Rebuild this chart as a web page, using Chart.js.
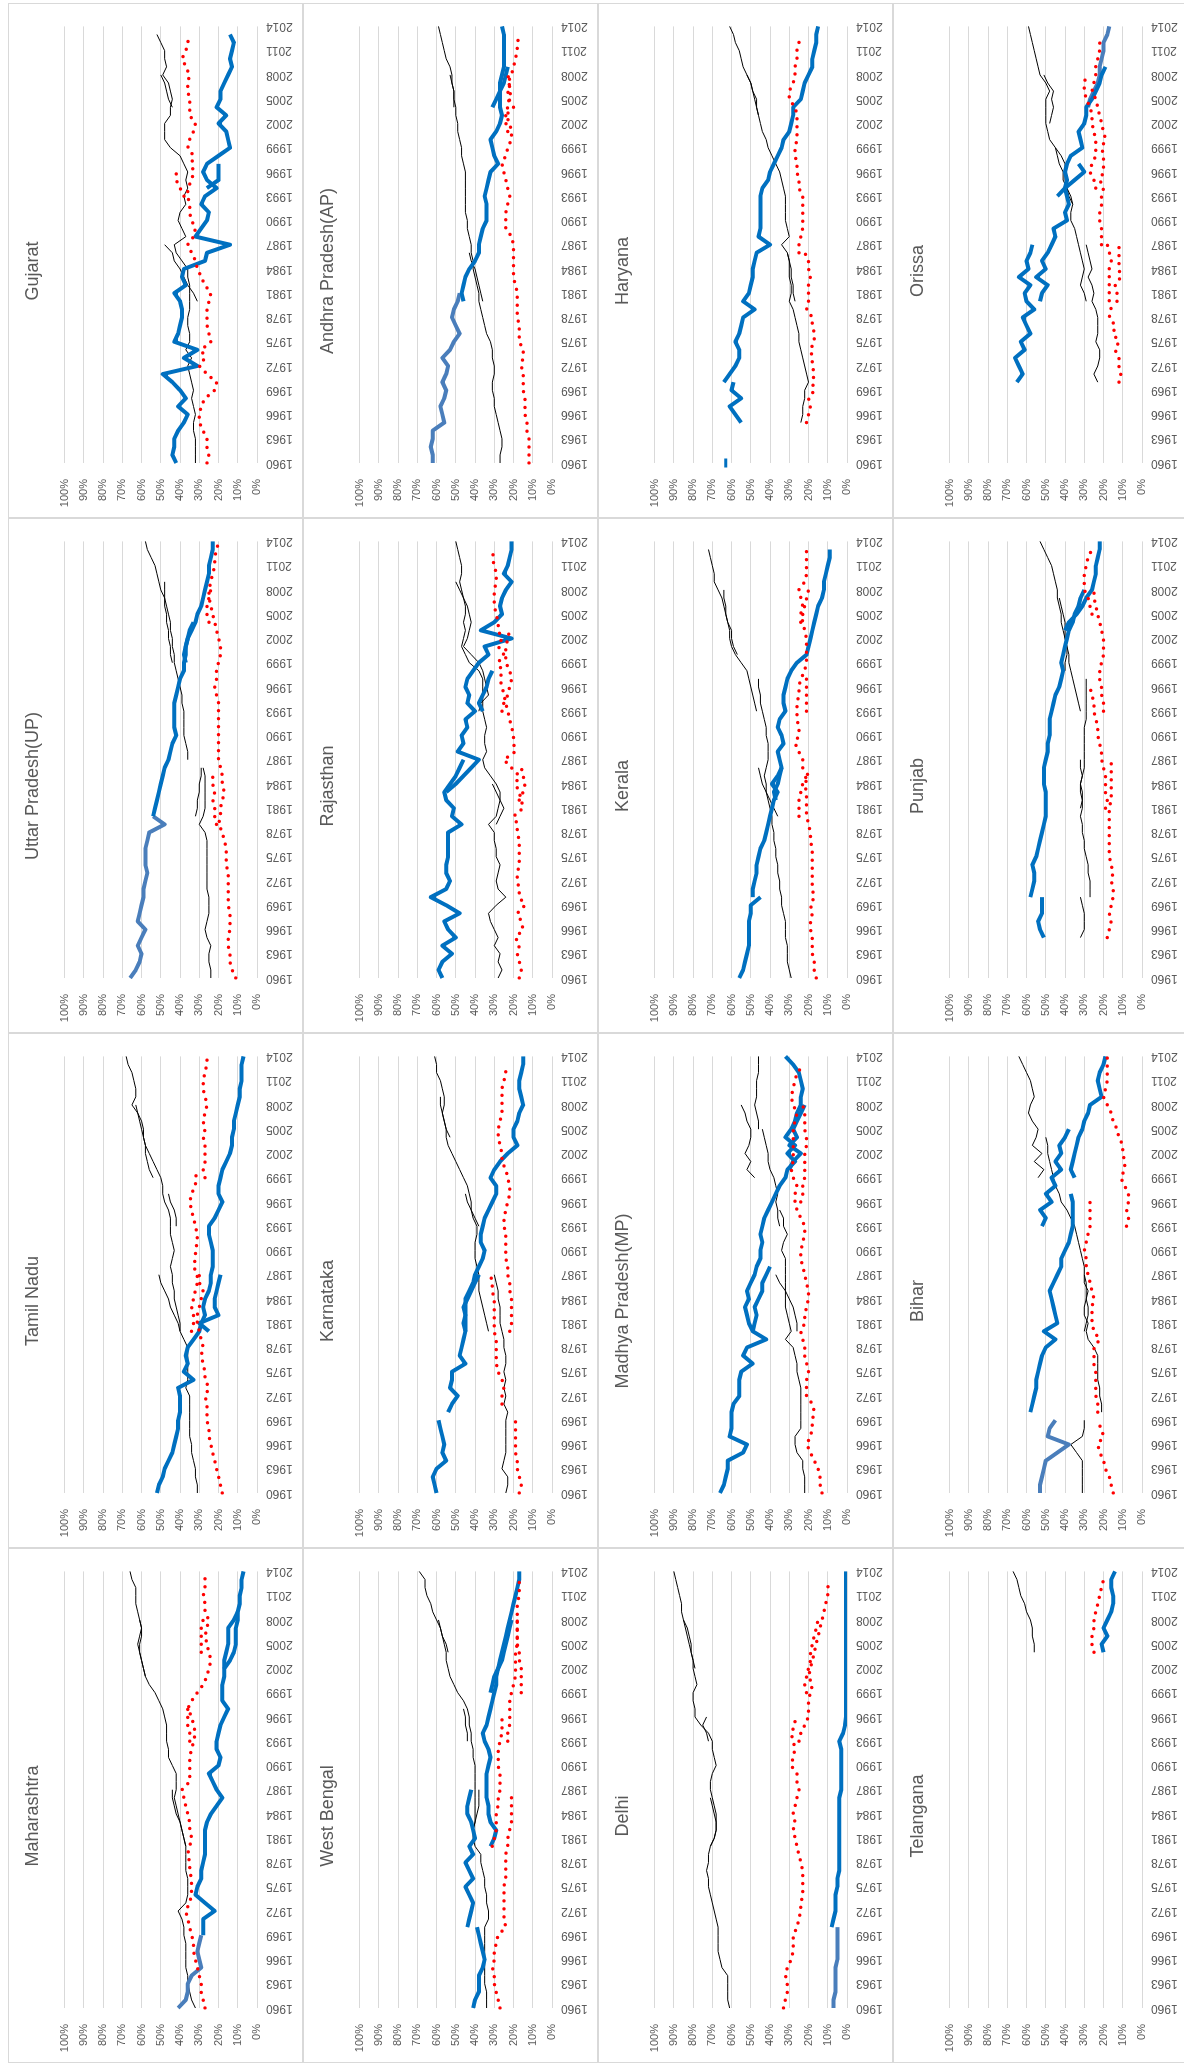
<!DOCTYPE html>
<html>
<head>
<meta charset="utf-8">
<title>State vote shares 1960-2014</title>
<script src="https://cdn.jsdelivr.net/npm/chart.js@4.4.1/dist/chart.umd.min.js"></script>
<style>
  html, body { margin: 0; padding: 0; background: #fff; overflow: hidden; }
  body { width: 1184px; height: 2067px; position: relative; }
  /* the sheet is laid out landscape and turned a quarter counter-clockwise */
  #sheet { position: absolute; left: 0; top: 0; width: 2067px; height: 1184px;
           transform-origin: 0 0; transform: translateY(2067px) rotate(-90deg); }
  .panel { position: absolute; width: 515px; height: 295px; box-sizing: border-box; border: 1px solid #d9d9d9; }
  .panel canvas { position: absolute; left: -1px; top: -1px; }
</style>
</head>
<body>
<div id="sheet"></div>
<script>
// --- categories ---
const years = ['1960','1961','1962','1963','1964','1965','1966','1967','1968','1969',
  '1970','1971','1972','1973','1974','1975','1976','1977','1978','1979',
  '1980','1981','1982','1983','1984','1985','1986','1987','1988','1989',
  '1990','1991','1992','1993','1994','1995','1996','1997','1998','1999',
  '2000','2001','2002','2003','2004','2005','2006','2007','2008','2009',
  '2010','2011','2012','2013','2014'];
const pctTicks = [0, 10, 20, 30, 40, 50, 60, 70, 80, 90, 100];

// put a run of yearly values into the 1960-2014 slots, starting at a given year
function seg(start, vals) {
  const out = years.map(() => null);
  vals.forEach((v, i) => { out[start - 1960 + i] = v; });
  return out;
}

// --- Gujarat ---
const gujBlue   = seg(1960, [42,44,43,43,41,38,36,41,37,40, 44,49,31,38,31,43,41,40,39,39, 40,43,37,39,38,27,26,14,32,29, 26,25,29,27,21,26,28,26,20,14, 15,16,20,16,21,19,19,17,15,13, 14,13,12,14]);
const gujBlue2  = seg(1994, [26,20,20,20]);
const gujBlack  = seg(1960, [32,32,32,32,33,33,32,33,34,33, 34,35,36,34,37,35,35,36,36,35, 35,35,35,36,36,39,42,43,37,39, 41,40,37,38,36,37,36,38,40,45, 48,48,48,45,45,44,45,46,49,47, 48,48,50,52]);
const gujBlack2 = seg(1980, [31,33,36,38,40,43,44,48]);
const gujBlack3 = seg(2004, [44,46,47,48,50]);
const gujRed    = seg(1960, [26,25,26,26,28,30,30,29,27,22, 21,26,30,27,29,24,25,26,26,26, 25,24,27,29,31,32,34,36,33,32, 34,35,35,36,36,34,33,34,33,36, 35,33,32,35,35,35,36,36,35,37, 39,37,36,35]);
const gujRed2   = seg(1993, [38,40,42,42]);

// --- Andhra Pradesh ---
const apBlueL  = seg(1960, [62,62,63,62,62,56,57,58,56,55, 57,55,54,57,53,51,48,50,52,51, 49,48]);
const apBlue   = seg(1980, [46,47,46,45,43,40,38,38,37,36, 34,34,34,35,34,33,32,28,30,31, 32,29,27,26,27,27,27,27,26,25, 25,25,25,25,26]);
const apBlue2  = seg(2004, [31,29,27,25,24,23]);
const apBlack  = seg(1960, [27,27,26,26,27,28,29,30,30,31, 31,30,30,31,31,32,34,35,36,37, 38,38,39,40,41,41,42,42,43,44, 44,45,45,45,45,45,45,46,47,47, 48,49,49,50,50,51,51,52,52,53, 55,56,57,58,59]);
const apBlack2 = seg(1980, [36,37,38,39,40,42,43]);
const apBlack3 = seg(2004, [51,51,51,52,53]);
const apRed    = seg(1960, [12,12,12,12,13,13,14,14,14,15, 15,15,16,15,15,17,17,17,18,18, 18,18,19,20,20,20,20,20,21,24, 24,24,23,22,23,24,25,26,24,23, 21,21,22,24,20,23,21,23,21,20, 19,18,18,17]);
const apRed2   = seg(2001, [23,24,24,23,22,23,22,23]);

// --- Haryana ---
const harBluePt  = seg(1960, [63]);
const harBlueA   = seg(1965, [55,58,61,55,60,59]);
const harBlueB   = seg(1970, [64,61,58,56,56,58,56,55,54,48, 54,51,50,49,49,48,47,40,46,45, 45,45,45,45,44,41,40,38,36,34, 33,30,29,28,28,24,23,22,20,18, 18,17,16,16,15]);
const harBlack   = seg(1965, [24,23,23,22,22, 20,21,22,23,24,25,25,26,27,28, 30,29,29,30,30,30,31,34,30,31, 32,32,32,32,33,34,35,37,39,41, 42,44,45,46,47,47,49,50,52,54, 55,56,58,59,61]);
const harBlack2  = seg(1980, [27,28,28,29,29,30,31]);
const harBlack3  = seg(2003, [46,47,48,49,50,52]);
const harRed     = seg(1965, [21,20,19,20,17, 18,17,18,18,19,17,17,18,18,21, 20,20,20,19,20,20,22]);
const harRed2    = seg(1986, [25,25,24,23,23,23,23,23,25,25, 26,26,27,27,26,26,26,26,27,30, 30,28,27,27,26,26,25,25]);

// --- Orissa ---
const oriBlueA  = seg(1970, [65,62,64,66,61,63,58,60,62,56, 60,61,58,64,59,60,58,57]);
const oriBlueB  = seg(1980, [53,52,49,55,50,52,49,47,45,46, 39,40,38,39,40,39,40,39,37,31, 32,33,30,29,29,26,24,22,21,19]);
const oriBlueC  = seg(1993, [44,40,35,30,33]);
const oriBlueL  = seg(2004, [28,27,25,23,22,22,21,20,20,18,17]);
const oriBlack  = seg(1970, [23,25,23,22,22,24,23,23,23,24, 26,25,26,28,26,27,28,29]);
const oriBlack2 = seg(1980, [29,30,32,31,30,31,32,33,34,35, 37,37,36,38,39,40,40,40,42,45, 48,49,50,50,50,50,48,50,53,54, 55,56,57,58,59]);
const oriBlack3 = seg(1992, [36,37,39,41,41,43,44,45]);
const oriBlack4 = seg(2002, [48,47,46,47,46,49,51]);
const oriRed    = seg(1970, [12,11,12,12,14,12,15,14,17,16, 17,17,17,17,17,16,17,18]);
const oriRed2   = seg(1980, [13,13,14,11,12,12,12,12]);
const oriRed3   = seg(1987, [21,21,21,22,22,21,21,20,22,20, 20,20,21,19,20,21,22,23,24,26, 25,24,24,23,22,22]);
const oriRed4   = seg(1994, [24,25,27,26,24,24,24,25,26,26,27,29,30,30,29]);

// --- Uttar Pradesh ---
const upBlueL  = seg(1960, [66,63,61,60,62,60,58,62,61,60, 59,59,58,57,58,58,58,57,56,48, 54]);
const upBlue   = seg(1980, [54,53,52,51,50,49,48,46,45,44, 42,43,43,43,43,42,41,40,38,38, 37,37,36,34,32,31,29,28,27,26, 25,25,24,23,23]);
const upBlue2  = seg(1999, [37,38,37,36,35,33]);
const upBlack  = seg(1960, [24,24,25,25,24,26,27,26,25,25, 25,26,26,26,26,26,26,26,27,30, 28,27,27,27,27,27,28]);
const upBlack2 = seg(1980, [32,31,31,30,30,29,29]);
const upBlack3 = seg(1987, [36,36,37,38,38,38,38,39,39,40, 41,42,43,43,44,44,45,45,46,47, 48,50,51,52,53,55,57,58]);
const upBlack4 = seg(1999, [44,45,45,46,46,47,47,48,48,48,48]);
const upRed    = seg(1960, [11,13,14,14,15,15,14,14,14,15, 15,15,15,15,16,16,16,17,18,20, 19,19,18,17,18,18,19,20,20,20, 20,20,20,20,20,21,22,21,21,20, 19,19,20,21,22,23,24,25,25,24, 23,22,22,21,20]);
const upRed2   = seg(1979, [21,22,22,23,22,23,23]);
const upRed3   = seg(2004, [25,26,26,25,24]);

// --- Rajasthan ---
const rajBlueA  = seg(1960, [57,59,57,52,57,50,54,56,48,55, 63,55,53,55,55,54,54,54,54,47, 52,51,55,56,53,50,48,46]);
const rajBlueB  = seg(1983, [55,50,46,42,38,49,46,47,44,45, 40,44,43,45,44,41,38,33,35,21, 37,30,26,27,26,24,21,25,23,22, 21,21]);
const rajBlueC  = seg(1993, [36,38,36,34,33,31]);
const rajBlack  = seg(1960, [28,26,28,27,30,28,30,32,33,29, 24,28,29,28,27,29,29,30,30,33, 29,28,27,27,29,32,35,36,34,35, 35,34,35,36,36,36,36,36,38,43, 45,47,46,45,46,45,45,46,47,48, 47,47,48,49,50]);
const rajBlack2 = seg(1979, [29,27,25,27,29,31]);
const rajBlack3 = seg(1993, [38,37,33,34,35,36,38,42,46,44,43,42,43,44,46,48,50]);
const rajRed    = seg(1960, [17,16,17,18,17,19,15,16,18,14, 17,17,18,18,17,17,17,17,18,18, 20,15,16,17,19,17,21,25,19,20, 20,21,22,23,24,25,26,27,26,28, 25,28,26,28,28,29,30,30,30,29, 29,30,31,30]);
const rajRed2   = seg(1982, [17,15,14,15,16]);
const rajRed3   = seg(1993, [26,25,23,22,21,22,24,24,24,23,22]);

// --- Kerala ---
const kerBlueA  = seg(1960, [56,54,53,52,51,51,51,51,50,50,45]);
const kerBlueB  = seg(1970, [49,49,48,47,47,46,45,43,42,41, 40,39,38,36,39,36,34,35,36,33, 34,36,35,32,33,33,32,31,29,26, 21,20,19,18,17,16,15,13,12,12, 11,10,9,9]);
const kerBlueC  = seg(1982, [37,38,36,35,34]);
const kerBlack  = seg(1960, [29,30,31,31,31,32,32,32,33,34, 34,35,35,36,36,37,37,38,38,39, 39,40,41,42,42,43,42,41,41,41, 42,42,43,44,45,45,46,46]);
const kerBlack2 = seg(1993, [47,48,49,50,51,52,55,58,60,61,61,62,63,64,65,67,69,69,70,71,72]);
const kerBlack3 = seg(1980, [36,38,40,42,44,45,46]);
const kerBlack4 = seg(2000, [57,59,60,60,62,63,63,64,64]);
const kerRed    = seg(1960, [16,17,17,18,18,18,19,19,18,19, 17,18,18,18,18,18,18,19,19,20, 21,21,21,21,22,20,23,23,25,27, 25,25,26,26,26,25,25,24,22,21, 21,21,21,22,23,24,23,24,25,22, 21,21,21,21]);
const kerRed2   = seg(1980, [25,25,25,24,23,21]);
const kerRed3   = seg(1993, [21,21,21,21,21]);
const kerRed4   = seg(2004, [24,23,22,21,20]);

// --- Punjab ---
const punBlueA  = seg(1965, [51,53,54,52,52,52]);
const punBlueB  = seg(1970, [58,57,56,56,57,55,54,53,52,51, 50,50,50,50,51,51,51,50,49,49, 48,48,48,47,46,45,43,42,41,42, 41,40,39,38,36,35,33,32,30]);
const punBlueC  = seg(2003, [40,38,34,31,29,26,25,24,24,23,22,22]);
const punBlackA = seg(1965, [32,30,30,30,31,32]);
const punBlackB = seg(1970, [27,27,27,28,28,29,30,30,31,31, 32,31,31,31,32,31,30,30,30,30, 30,30,29,29,29,29,29,29]);
const punBlackC = seg(1981, [32,31,32,32,31,32,32]);
const punBlackD = seg(1993, [32,33,34,35,36,37,38,38,39,40, 41,42,42,43,44,44,45,46,47,49, 51,53]);
const punBlackE = seg(1998, [40,40,39,39,40,40,40,41,42,43]);
const punRedA   = seg(1965, [18,17,16,17,16,15,15,16,15,16, 17,17,17,17,17,17,17,16,16,16, 16,16,16]);
const punRedB   = seg(1981, [19,18,19,19,19,20,21,21,22,23,23,24,25,25,26,27]);
const punRedC   = seg(1993, [20,20,21,21,22,22,21,20,20,20,21,22,23,24,25,25]);
const punRedD   = seg(2005, [26,27,28,30,30,30,29,28,26]);

// --- Tamil Nadu ---
const tnBlue   = seg(1960, [52,51,49,48,46,44,43,42,41,41, 40,40,40,41,33,38,36,37,36,33, 30,29,27,28,27,25,24,24,23,23, 23,24,25,25,22,20,18,20,20,19, 18,16,14,13,13,12,12,11,10,9, 9,8,8,8,7]);
const tnBlue2  = seg(1980, [25,30,20,22,22,21,20,19]);
const tnBlack  = seg(1960, [31,31,32,32,33,34,34,35,35,35, 35,35,35,37,36,36,36,36,36,38, 40,40,41,42,43,43,44,44,45,44, 43,44,45,45,45,46,48,49,49,50, 52,54,56,58,59,59,60,62,65,63, 63,64,65,67,68]);
const tnBlack2 = seg(1980, [40,41,43,45,46,48,50,51]);
const tnBlack3 = seg(1993, [42,42,43,45,46]);
const tnBlack4 = seg(1999, [54,56,57,58,58,59,60,61,62,63]);
const tnRedA   = seg(1960, [18,19,20,21,22,23,24,25,25,26, 26,26,27,25,27,27,28,29,28,29, 30,31,31,30,29,28,30,30]);
const tnRedB   = seg(1980, [34,33,33,34,33,32,31,31,33,32, 32,31,31,32,33,34,35,34,32,32,31]);
const tnRedC   = seg(1999, [27,28,27,27,27,28,27,28,27,26,27,28,28,27,26,26]);

// --- Karnataka ---
const karBlueA  = seg(1960, [60,61,62,60,55,57,56,57,58,59]);
const karBlueB  = seg(1970, [54,52,49,53,52,52,45,48,47,46, 45,46,45,45,45,43,41,40,38,36, 35,37,37,36,35,33,31,29,29,32, 30,27,23,18,20,20,18,17,15,16, 17,17,16,15,15]);
const karBlueC  = seg(1980, [45,45,45,46,44,42,40,38]);
const karBlack  = seg(1960, [24,23,23,26,25,24,24,24,24,24, 23,25,24,25,24,25,24,24,25,25, 26,27,27,27,28,28,29,30]);
const karBlack2 = seg(1980, [33,34,35,36,37,38,38,38,39,40, 40,40,39,39,41,42,42,43,44,46, 48,50,52,54,55,55,56,57,56,56, 57,58,60,60,61]);
const karBlack3 = seg(1993, [38,40,42,44,45]);
const karBlack4 = seg(2004, [53,55,56,57,58,58]);
const karRedA   = seg(1960, [17,16,17,18,18,19,19,19,19,19]);
const karRedB   = seg(1971, [26,26,25,26,28,29,29,29,29,30,30,30,30,30,31,31,32]);
const karRedC   = seg(1980, [22,21,21,21,21,22,22,23,23,24, 24,24,24,25,25,24,23,22,22,23, 24,26,26,27,28,28,27,26,26,26, 26,25,24,24]);

// --- Madhya Pradesh ---
const mpBlueA  = seg(1960, [66,64,63,62,62,54,52,61,60,60, 60,59,56,56,56,55,49,54,52,42, 49,51,52,53,51,52,50,48,47,45, 45,44,45,44,43,41,39,37,35,32, 31,27,31,27,32,29,27,26,24,24, 23,24,25,28,32]);
const mpBlueB  = seg(1980, [49,48,47,48,46,44,44,42,40]);
const mpBlueC  = seg(2000, [30,28,24,30,26,28,26,24,22]);
const mpBlack  = seg(1960, [22,22,22,23,23,26,27,27,24,24, 24,24,24,24,25,26,26,27,28,32, 29,30,31,32,32,32,32,32,32,32, 34,33,31,33,33,35]);
const mpBlack2 = seg(1980, [26,26,27,28,30,32,35,37]);
const mpBlack3 = seg(1993, [35,36,36,37,36,37,38,40,41,41,42,43,44]);
const mpBlack4 = seg(1999, [48,52,50,53,51,50,50,52,53,55]);
const mpBlack5 = seg(2005, [46,46,47,48,47,47,47,46,46,46]);
const mpRedA   = seg(1960, [13,14,14,15,17,19,21,19,18,18, 17,18,21,21,21,20,21,22,22,23, 24,22,22,21,20,20,21,22,23,24, 24,23,22,22,24,26,27,27,26,28, 29,28,28,28,28,28,27,26,28,29, 28,27,26,22]);
const mpRedB   = seg(1996, [24,23,23,22,22,22,22,21,21,22,22,22,23]);

// --- Bihar ---
const bihBlueL  = seg(1960, [53,53,52,51,50,44,38,49,48,45]);
const bihBlueA  = seg(1970, [58,57,56,55,55,54,53,52,50,45, 51,44,45,46,47,48,46,44,42,42, 40,38,37,36,36,36,36,37]);
const bihBlueB  = seg(1993, [52,50,53,47,50,45,47,42,45,42,43,40,38]);
const bihBlueC  = seg(1999, [35,37,36,35,34,33,31,30,28,27,21,22,23,22,20,19]);
const bihBlackL = seg(1960, [31,31,31,31,31,34,37,31,30,30]);
const bihBlackA = seg(1970, [21,21,22,22,23,23,23,23,25,28, 29,28,30,30,29,29,29,30,30,31, 32,33,34,35,37,39,42,43,45,46, 47,48,49,49,50]);
const bihBlackB = seg(1980, [30,29,28,28,29,28,30,30]);
const bihBlackC = seg(1999, [54,51,56,52,57,55,54,57,59,58,56,57,58,60,62,64]);
const bihRedL   = seg(1960, [15,16,17,19,20,22,23,20,21,24]);
const bihRedA   = seg(1970, [23,23,24,24,24,24,25,25,25,22, 25,26,26,26,25,26,27,28,29,29, 30,29,28,27,27,27,27]);
const bihRedB   = seg(1993, [8,7,8,7,7,9,11,9,9,10, 10,12,13,15,16,18,20,19,18,18, 18,18]);

// --- Maharashtra ---
const mahBlueL  = seg(1960, [41,37,36,36,34,29,30,31,30,29]);
const mahBlue   = seg(1969, [28,28,28,22,27,32,31,29,29,28, 27,27,27,27,26,24,21,18,21,23, 25,20,19,21,21,20,19,17,15,18, 18,18,17,17,14,12,11,11,11,10, 10,9,9,8,8,7]);
const mahBlue2  = seg(2002, [17,17,16,15,15,15,12,10]);
const mahBlack  = seg(1960, [32,34,35,36,36,37,37,37,37,38, 38,39,41,37,36,36,36,37,37,37, 37,38,39,40,41,42,43,42,42,42, 44,46,46,47,47,47,48,49,51,53, 56,58,59,60,61,61,60,60,61,62, 63,63,63,65,66]);
const mahBlack2 = seg(1980, [37,38,39,40,42,43,44,44]);
const mahBlack3 = seg(2001, [58,59,60,61,62,61,60,61]);
const mahRed    = seg(1960, [27,28,29,29,30,31,32,33,33,34, 35,36,37,35,34,34,34,35,35,36, 35,34,35,35,36,37,38,39,35,35, 35,35,34,33,32,33,34,36,34,31, 28,26,25,24,25,26,27,26,25,27, 27,28,27,27,27]);
const mahRed2   = seg(1993, [35,35,36,36,36]);
const mahRed3   = seg(2004, [29,29,29,29,28]);

// --- West Bengal ---
const wbBlueA  = seg(1960, [41,40,38,38,38,36,35,36,37,38,39]);
const wbBlueB  = seg(1970, [44,43,42,41,43,45,41,43,45,41, 43,40,41,42,44,44,43,42]);
const wbBlueC  = seg(1980, [32,30,29,32,33,33,34,34,34,34, 33,32,33,35,36,34,33,32,31,30, 29,29,28,27,26,25,24,23,22,21, 20,19,18,17,17]);
const wbBlueD  = seg(1999, [32,31,30,28,26,25,24,23,22,21]);
const wbBlack  = seg(1960, [34,34,34,35,35,35,35,35,35,35, 35,33,33,34,34,35,35,36,37,37, 40,41,41,40,39,38,38,38]);
const wbBlack2 = seg(1982, [41,40,40,40,40,40,40,40,40,41, 41,42,42,43,43,44,46,49,51,53, 54,55,55,56,57,58,60,62,63,65, 66,66,69]);
const wbBlack3 = seg(1993, [44,44,45,45,46]);
const wbBlack4 = seg(2004, [54,55,57,58,59]);
const wbRedA   = seg(1960, [27,28,29,30,30,31,30,30,29,28, 24,25,25,25,25,25,24,24,24,24, 23,23,22,21,21,21,21]);
const wbRedB   = seg(1980, [31,30,29,29,29,28,28,27,27,27, 28,28,28,27,26,26,26]);
const wbRedC   = seg(1993, [23,23,22,22,22,22,21,20,19,19, 19,19,18,18,18,18,18,18,17,17, 17]);
const wbRedD   = seg(1999, [16,16,16,16,17,17,18,18,18,18]);

// --- Delhi ---
const delBlueL  = seg(1960, [7,7,6,6,6,6,5,5,5,5,5]);
const delBlue   = seg(1970, [8,7,6,6,6,5,5,4,4,4, 4,4,4,4,4,4,4,3,3,3, 3,3,3,4,2,1,0.5,0.5,0.5,0.5, 0.5,0.5,0.5,0.5,0.5,0.5,0.5,0.5,0.5,0.5, 0.5,0.5,0.5,0.5,0.5]);
const delBlack  = seg(1960, [61,62,62,62,62,65,66,67,67,67, 67,68,69,70,71,72,72,73,72,72, 71,69,68,68,68,69,70,71,71,70, 68,69,70,70,72,76,79,79,80,80, 78,79,80,80,81,81,82,83,85,86, 86,87,88,89,90]);
const delBlack2 = seg(1980, [71,69,68,68,69,70,71]);
const delBlack3 = seg(1993, [72,73,75,73]);
const delBlack4 = seg(2002, [79,80,81,82,83,84,85]);
const delRedA   = seg(1960, [33,32,31,31,32,31,29,28,28,28, 26,25,24,24,23,23,23,23,24,25, 26,27,28,27,28,27,26,25,26,26, 29,28,27,28,29,27,27]);
const delRedB   = seg(1993, [25,24,22,20,20,20,19,18,20,19, 18,17,16,15,14,13,12,11,10,10, 9]);
const delRedC   = seg(1999, [21,22,21,20,19,19,18,17,16,15]);

// --- Telangana ---
const telBlack = seg(2004, [56,56,57,57,58,60,61,63,64,65,67]);
const telBlue  = seg(2004, [20,21,18,20,18,16,15,15,16,16,14]);
const telRed   = seg(2004, [25,26,26,25,25,24,23,22,21,20]);

// --- panels: col = column on the rotated page (left to right), row = row on it (top to bottom) ---
const panels = [
  { name: 'Gujarat', col: 0, row: 0, red: [gujRed, gujRed2], blue: [gujBlue, gujBlue2], blueL: [], black: [gujBlack, gujBlack2, gujBlack3] },
  { name: 'Uttar Pradesh(UP)', col: 0, row: 1, red: [upRed, upRed2, upRed3], blue: [upBlue, upBlue2], blueL: [upBlueL], black: [upBlack, upBlack2, upBlack3, upBlack4] },
  { name: 'Tamil Nadu', col: 0, row: 2, red: [tnRedA, tnRedB, tnRedC], blue: [tnBlue, tnBlue2], blueL: [], black: [tnBlack, tnBlack2, tnBlack3, tnBlack4] },
  { name: 'Maharashtra', col: 0, row: 3, red: [mahRed, mahRed2, mahRed3], blue: [mahBlue, mahBlue2], blueL: [mahBlueL], black: [mahBlack, mahBlack2, mahBlack3] },
  { name: 'Andhra Pradesh(AP)', col: 1, row: 0, red: [apRed, apRed2], blue: [apBlue, apBlue2], blueL: [apBlueL], black: [apBlack, apBlack2, apBlack3] },
  { name: 'Rajasthan', col: 1, row: 1, red: [rajRed, rajRed2, rajRed3], blue: [rajBlueA, rajBlueB, rajBlueC], blueL: [], black: [rajBlack, rajBlack2, rajBlack3] },
  { name: 'Karnataka', col: 1, row: 2, red: [karRedA, karRedB, karRedC], blue: [karBlueA, karBlueB, karBlueC], blueL: [], black: [karBlack, karBlack2, karBlack3, karBlack4] },
  { name: 'West Bengal', col: 1, row: 3, red: [wbRedA, wbRedB, wbRedC, wbRedD], blue: [wbBlueA, wbBlueB, wbBlueC, wbBlueD], blueL: [], black: [wbBlack, wbBlack2, wbBlack3, wbBlack4] },
  { name: 'Haryana', col: 2, row: 0, red: [harRed, harRed2], blue: [harBlueA, harBlueB], blueL: [], black: [harBlack, harBlack2, harBlack3], dot: harBluePt },
  { name: 'Kerala', col: 2, row: 1, red: [kerRed, kerRed2, kerRed3, kerRed4], blue: [kerBlueA, kerBlueB, kerBlueC], blueL: [], black: [kerBlack, kerBlack2, kerBlack3, kerBlack4] },
  { name: 'Madhya Pradesh(MP)', col: 2, row: 2, red: [mpRedA, mpRedB], blue: [mpBlueA, mpBlueB, mpBlueC], blueL: [], black: [mpBlack, mpBlack2, mpBlack3, mpBlack4, mpBlack5] },
  { name: 'Delhi', col: 2, row: 3, red: [delRedA, delRedB, delRedC], blue: [delBlue], blueL: [delBlueL], black: [delBlack, delBlack2, delBlack3, delBlack4] },
  { name: 'Orissa', col: 3, row: 0, red: [oriRed, oriRed2, oriRed3, oriRed4], blue: [oriBlueA, oriBlueB, oriBlueC], blueL: [oriBlueL], black: [oriBlack, oriBlack2, oriBlack3, oriBlack4] },
  { name: 'Punjab', col: 3, row: 1, red: [punRedA, punRedB, punRedC, punRedD], blue: [punBlueA, punBlueB, punBlueC], blueL: [], black: [punBlackA, punBlackB, punBlackC, punBlackD, punBlackE] },
  { name: 'Bihar', col: 3, row: 2, red: [bihRedL, bihRedA, bihRedB], blue: [bihBlueA, bihBlueB, bihBlueC], blueL: [bihBlueL], black: [bihBlackL, bihBlackA, bihBlackB, bihBlackC] },
  { name: 'Telangana', col: 3, row: 3, red: [telRed], blue: [telBlue], blueL: [], black: [telBlack] },
];

Chart.defaults.font.family = '"Liberation Sans", Arial, sans-serif';
const GREY = '#595959';

function lineSet(data, kind) {
  const base = { data: data, pointRadius: 0, tension: 0, fill: false, spanGaps: false, borderJoinStyle: 'round' };
  if (kind === 'red') {
    return Object.assign(base, { borderColor: '#FF0000', borderWidth: 3.5, borderDash: [0, 8], borderCapStyle: 'round' });
  }
  if (kind === 'blue') return Object.assign(base, { borderColor: '#0070C0', borderWidth: 4 });
  if (kind === 'blueL') return Object.assign(base, { borderColor: '#4A7EBB', borderWidth: 4 });
  return Object.assign(base, { borderColor: '#000000', borderWidth: 1 });
}

const sheet = document.getElementById('sheet');

panels.forEach(p => {
  const box = document.createElement('div');
  box.className = 'panel';
  // landscape position before the quarter turn
  box.style.left = (4 + 515 * (3 - p.row)) + 'px';
  box.style.top = (8 + 295 * p.col) + 'px';
  const canvas = document.createElement('canvas');
  canvas.width = 515;
  canvas.height = 295;
  canvas.style.width = '515px';
  canvas.style.height = '295px';
  box.appendChild(canvas);
  sheet.appendChild(box);

  // first dataset is painted last, so red sits on top, then blue, then black
  const datasets = [];
  p.red.forEach(d => datasets.push(lineSet(d, 'red')));
  p.blue.forEach(d => datasets.push(lineSet(d, 'blue')));
  p.blueL.forEach(d => datasets.push(lineSet(d, 'blueL')));
  if (p.dot) {
    datasets.push({ data: p.dot, showLine: false, pointStyle: 'line', pointRadius: 4.5,
                    pointBorderWidth: 3, pointBorderColor: '#0070C0', borderColor: '#0070C0' });
  }
  p.black.forEach(d => datasets.push(lineSet(d, 'black')));

  new Chart(canvas.getContext('2d'), {
    type: 'line',
    data: { labels: years, datasets: datasets },
    options: {
      responsive: false,
      animation: false,
      devicePixelRatio: 1,
      layout: { padding: { left: 0, right: 21, top: 0, bottom: 0 } },
      plugins: {
        legend: { display: false },
        tooltip: { enabled: false },
        title: {
          display: true,
          text: p.name,
          color: GREY,
          font: { size: 18, weight: 'normal' },
          padding: { top: 14, bottom: 21 }
        }
      },
      scales: {
        x: {
          type: 'category',
          offset: false,
          grid: { display: false, drawTicks: false },
          border: { display: false },
          ticks: {
            autoSkip: false,
            minRotation: 90,
            maxRotation: 90,
            padding: 9,
            color: GREY,
            font: { size: 12 },
            callback: function (v, i) { return i % 3 === 0 ? years[i] : null; }
          },
          afterFit: s => { s.height = 46; }
        },
        y: {
          min: pctTicks[0],
          max: pctTicks[pctTicks.length - 1],
          grid: { color: '#D9D9D9', lineWidth: 1, drawTicks: false },
          border: { display: false },
          ticks: {
            stepSize: 10,
            padding: 16,
            color: GREY,
            font: { size: 11 },
            callback: v => v + '%'
          },
          afterFit: s => { s.width = 55; }
        }
      }
    }
  });
});
</script>
</body>
</html>
